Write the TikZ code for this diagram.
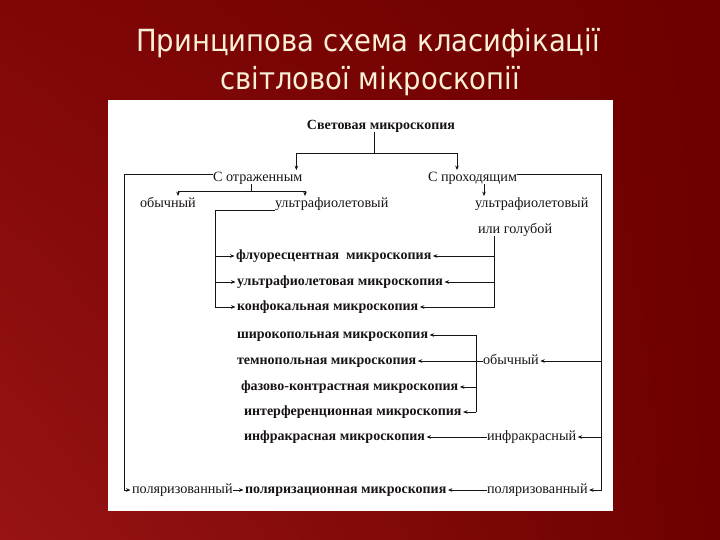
\documentclass[tikz,border=0pt]{standalone}
\usepackage{fontspec}
\setmainfont{Liberation Serif}
\newfontfamily\titlefont[FakeStretch=0.9]{DejaVu Sans}
\usetikzlibrary{arrows.meta,calc,shadings}
\definecolor{bgdark}{RGB}{110,0,0}
\definecolor{bglight}{RGB}{152,20,20}
\definecolor{bgmid}{RGB}{128,6,6}
\definecolor{titlec}{RGB}{250,240,215}
\definecolor{ink}{RGB}{25,20,20}
\begin{document}
\begin{tikzpicture}[x=1pt,y=-1pt,
  lbl/.style={font=\fontsize{14.2}{15}\selectfont, text=ink, inner sep=0pt, outer sep=0pt,
              text height=9.8pt, text depth=3pt, anchor=west},
  mic/.style={lbl, font=\fontsize{14}{15}\selectfont\bfseries},
  con/.style={line width=0.8pt, draw=ink},
  arr/.style={con, -{Stealth[length=4.5pt,width=3.6pt]}, shorten >=1.5pt},
  ttl/.style={font=\titlefont\fontsize{30.5}{32}\selectfont, text=titlec, inner sep=0pt, anchor=base}
]
\useasboundingbox (0,0) rectangle (720,540);
\shade[upper left=bgmid, upper right=bgdark, lower left=bglight, lower right=bgdark] (0,0) rectangle (720,540);
\fill[white] (108,100) rectangle (613,511);

% title
\node[ttl] (t1) at (368,52) {Принципова схема класифікації};
\node[ttl] (t2) at (370,90) {світлової мікроскопії};

% nodes
\node[mic, anchor=center] (sm) at (381,126) {Световая микроскопия};
\node[lbl] (ref) at (213,178) {С отраженным};
\node[lbl] (tra) at (428,178) {С проходящим};
\node[lbl] (ob1) at (140,204) {обычный};
\node[lbl] (uv1) at (275,204) {ультрафиолетовый};
\node[lbl] (uv2) at (475,204) {ультрафиолетовый};
\node[lbl] (blue) at (478,230) {или голубой};
\node[mic] (fl) at (236,256) {флуоресцентная\ \ микроскопия};
\node[mic] (uvm) at (237,282) {ультрафиолетовая микроскопия};
\node[mic] (cf) at (237,307) {конфокальная микроскопия};
\node[mic] (wf) at (237,335) {широкопольная микроскопия};
\node[mic] (df) at (237,361) {темнопольная микроскопия};
\node[mic] (pc) at (241,387) {фазово-контрастная микроскопия};
\node[mic] (ic) at (244,412) {интерференционная микроскопия};
\node[mic] (ir) at (244,437) {инфракрасная микроскопия};
\node[mic] (pm) at (245,490) {поляризационная микроскопия};
\node[lbl] (ob2) at (483,361) {обычный};
\node[lbl] (ir2) at (487,437) {инфракрасный};
\node[lbl] (pol1) at (132,490) {поляризованный};
\node[lbl] (pol2) at (487,490) {поляризованный};

% top split
\coordinate (j1) at (374,153);
\draw[con] (sm.south -| j1) -- (j1);
\draw[arr] (j1) -| ([xshift=-6]ref.north east);
\draw[arr] (j1) -| ([xshift=29]tra.north west);

% reflected light split
\coordinate (j2) at (251,191);
\draw[con] (ref.south -| j2) -- (j2);
\draw[arr] (j2) -| ([xshift=38]ob1.north west);
\draw[arr] (j2) -| ([xshift=30]uv1.north west);

% left loop to polarized
\coordinate (lx) at (124,174);
\draw[arr] (ref.west |- lx) -- (lx) |- (pol1.west);

% UV (reflected) branch
\coordinate (v1) at (215,210);
\draw[arr] (uv1.south west) -| (v1 |- cf.west) -- (cf.west);
\draw[arr] (v1 |- fl.west) -- (fl.west);
\draw[arr] (v1 |- uvm.west) -- (uvm.west);

% transmitted
\draw[arr] ([xshift=56]tra.south west) -- ([xshift=56]tra.south west |- uv2.north);
\coordinate (rx) at (601,174);
\draw[arr] (tra.east |- rx) -- (rx) |- (pol2.east);
\draw[arr] (rx |- ob2.east) -- (ob2.east);
\draw[arr] (rx |- ir2.east) -- (ir2.east);

% UV or blue branch
\coordinate (v2) at (494,237);
\draw[arr] (blue.south -| v2) |- (cf.east);
\draw[arr] (v2 |- fl.east) -- (fl.east);
\draw[arr] (v2 |- uvm.east) -- (uvm.east);

% ordinary transmitted branch
\draw[arr] (ob2.west) -- (df.east);
\coordinate (v3) at (476,335);
\draw[con] (v3) -- (v3 |- ic.east);
\draw[arr] (v3) -- (wf.east);
\draw[arr] (v3 |- pc.east) -- (pc.east);
\draw[arr] (v3 |- ic.east) -- (ic.east);

% infrared and polarized
\draw[arr] (ir2.west) -- (ir.east);
\draw[arr] (pol1.east) -- (pm.west);
\draw[arr] (pol2.west) -- (pm.east);
\end{tikzpicture}
\end{document}
